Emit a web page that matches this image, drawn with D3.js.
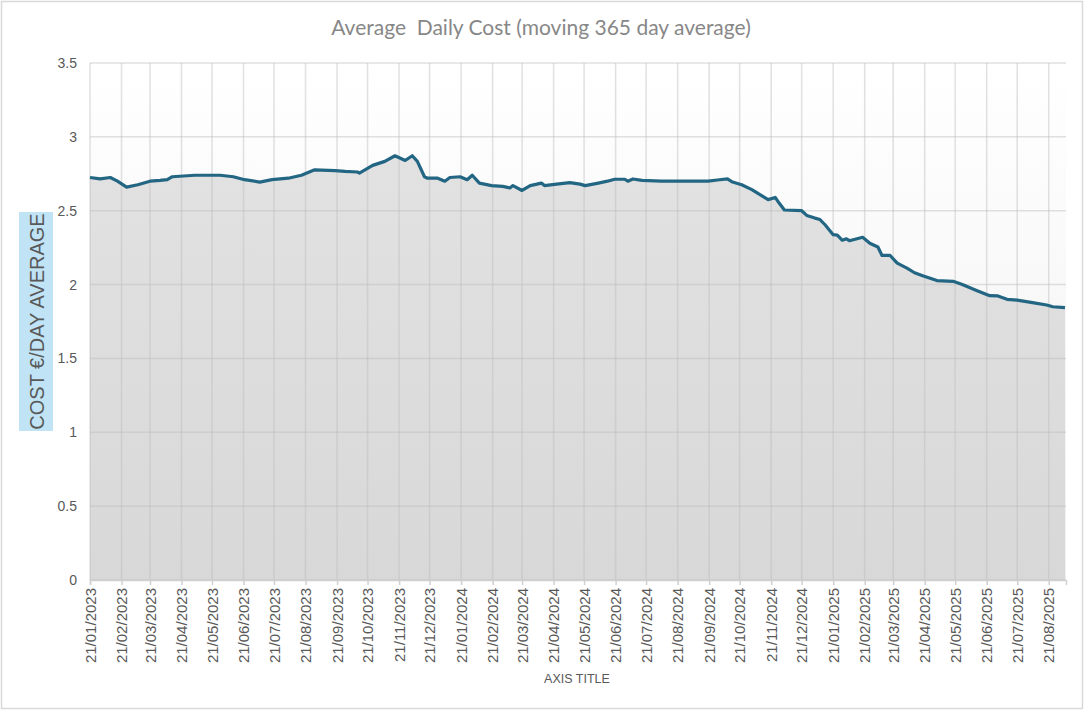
<!DOCTYPE html>
<html>
<head>
<meta charset="utf-8">
<script src="https://cdn.jsdelivr.net/npm/d3@7"></script>
<style>
  body { margin: 0; background: #fff; }
  svg { display: block; }
</style>
</head>
<body>
<div id="chart"></div>
<script>
// moving 365 day average
const dates = [
  "2023-01-21","2023-01-31","2023-02-10","2023-02-17","2023-02-26","2023-03-09","2023-03-21","2023-03-31",
  "2023-04-07","2023-04-12","2023-05-04","2023-05-29","2023-06-11","2023-06-22","2023-07-07","2023-07-19",
  "2023-08-04","2023-08-17","2023-08-30","2023-09-19","2023-09-29","2023-10-11","2023-10-13","2023-10-26",
  "2023-11-07","2023-11-17","2023-11-27","2023-12-04","2023-12-09","2023-12-16","2023-12-19","2023-12-29",
  "2024-01-05","2024-01-10","2024-01-20","2024-01-27","2024-02-01","2024-02-08","2024-02-20","2024-03-02",
  "2024-03-09","2024-03-12","2024-03-21","2024-03-29","2024-04-09","2024-04-12","2024-04-24","2024-05-07",
  "2024-05-17","2024-05-22","2024-06-04","2024-06-13","2024-06-20","2024-06-30","2024-07-03","2024-07-08",
  "2024-07-17","2024-08-05","2024-09-04","2024-09-20","2024-09-29","2024-10-09","2024-10-14","2024-10-23",
  "2024-11-02","2024-11-12","2024-11-18","2024-11-25","2024-11-29","2024-12-04","2024-12-21","2024-12-26",
  "2025-01-03","2025-01-08","2025-01-13","2025-01-21","2025-01-25","2025-01-30","2025-02-03","2025-02-06",
  "2025-02-19","2025-02-26","2025-03-06","2025-03-10","2025-03-18","2025-03-25","2025-04-04","2025-04-11",
  "2025-04-19","2025-05-03","2025-05-19","2025-05-28","2025-06-11","2025-06-24","2025-07-02","2025-07-11",
  "2025-07-21","2025-08-05","2025-08-19","2025-08-25","2025-09-06"
];
const costs = [
  2.725,2.715,2.725,2.70,2.66,2.676,2.70,2.705,
  2.71,2.73,2.74,2.74,2.73,2.71,2.694,2.71,
  2.72,2.74,2.777,2.772,2.766,2.762,2.755,2.807,
  2.834,2.872,2.84,2.872,2.834,2.73,2.72,2.72,
  2.70,2.725,2.73,2.71,2.74,2.687,2.67,2.665,
  2.654,2.67,2.637,2.67,2.687,2.67,2.68,2.69,
  2.68,2.67,2.687,2.70,2.713,2.713,2.70,2.715,
  2.705,2.70,2.70,2.70,2.708,2.715,2.694,2.676,
  2.643,2.60,2.575,2.59,2.55,2.505,2.50,2.468,
  2.45,2.44,2.405,2.338,2.335,2.30,2.31,2.297,
  2.32,2.28,2.254,2.197,2.197,2.145,2.11,2.08,
  2.06,2.027,2.022,2.00,1.96,1.925,1.923,1.90,
  1.895,1.878,1.862,1.85,1.844
];
const yTicks = [0, 0.5, 1, 1.5, 2, 2.5, 3, 3.5];
const xStart = "2023-01-21";
const xEnd = "2025-09-07";
const TITLE = "Average  Daily Cost (moving 365 day average)";
const Y_TITLE = "COST €/DAY AVERAGE";
const X_TITLE = "AXIS TITLE";

const WIDTH = 1084, HEIGHT = 710;
const PLOT = {left: 90, right: 1066, top: 63, bottom: 580};
const SANS = "Liberation Sans, Arial, sans-serif";

const parse = d3.timeParse("%Y-%m-%d");
const fmt = d3.timeFormat("%d/%m/%Y");
const data = dates.map((d, i) => ({date: parse(d), value: costs[i]}));

// ticks on the 21st of every month
const tickDates = d3.timeMonth.range(parse("2023-01-01"), parse("2025-09-01"))
  .map(m => new Date(m.getFullYear(), m.getMonth(), 21));

const svg = d3.select("#chart").append("svg")
  .attr("width", WIDTH)
  .attr("height", HEIGHT);

const defs = svg.append("defs");
const bgGrad = defs.append("linearGradient").attr("id", "bgGrad")
  .attr("x1", 0).attr("y1", 0).attr("x2", 0).attr("y2", 1);
bgGrad.append("stop").attr("offset", "0%").attr("stop-color", "#ffffff");
bgGrad.append("stop").attr("offset", "100%").attr("stop-color", "#f0f0f0");
const areaGrad = defs.append("linearGradient").attr("id", "areaGrad")
  .attr("gradientUnits", "userSpaceOnUse")
  .attr("x1", 0).attr("y1", PLOT.top).attr("x2", 0).attr("y2", PLOT.bottom);
areaGrad.append("stop").attr("offset", "0%").attr("stop-color", "#e4e4e4");
areaGrad.append("stop").attr("offset", "100%").attr("stop-color", "#d8d8d8");

// outer frame
svg.append("rect")
  .attr("x", 1.5).attr("y", 1.5)
  .attr("width", WIDTH - 3).attr("height", HEIGHT - 3)
  .attr("fill", "#fff")
  .attr("stroke", "#d9d9d9")
  .attr("stroke-width", 1.5);

const x = d3.scaleTime()
  .domain([parse(xStart), parse(xEnd)])
  .range([PLOT.left, PLOT.right]);

const y = d3.scaleLinear()
  .domain([0, 3.5])
  .range([PLOT.bottom, PLOT.top]);

// plot background
svg.append("rect")
  .attr("x", PLOT.left).attr("y", PLOT.top)
  .attr("width", PLOT.right - PLOT.left)
  .attr("height", PLOT.bottom - PLOT.top)
  .attr("fill", "url(#bgGrad)");

// area under the line
const area = d3.area()
  .x(d => x(d.date))
  .y0(y(0))
  .y1(d => y(d.value));

svg.append("path")
  .datum(data)
  .attr("d", area)
  .attr("fill", "url(#areaGrad)");

// gridlines on top of the area
const grid = svg.append("g");
grid.selectAll(".hgrid")
  .data(yTicks)
  .enter().append("line")
  .attr("x1", PLOT.left).attr("x2", PLOT.right)
  .attr("y1", d => y(d)).attr("y2", d => y(d))
  .attr("stroke", "#bdbdbd")
  .attr("stroke-opacity", 0.45)
  .attr("stroke-width", 1.5);

grid.selectAll(".vgrid")
  .data(tickDates)
  .enter().append("line")
  .attr("x1", d => x(d)).attr("x2", d => x(d))
  .attr("y1", PLOT.top).attr("y2", PLOT.bottom)
  .attr("stroke", "#bdbdbd")
  .attr("stroke-opacity", 0.45)
  .attr("stroke-width", 1.5);

// the line
const line = d3.line()
  .x(d => x(d.date))
  .y(d => y(d.value));

svg.append("path")
  .datum(data)
  .attr("d", line)
  .attr("fill", "none")
  .attr("stroke", "#226683")
  .attr("stroke-width", 3.2)
  .attr("stroke-linejoin", "round");

// x axis
const xAxis = d3.axisBottom(x)
  .tickValues(tickDates)
  .tickFormat(fmt)
  .tickSize(5)
  .tickPadding(6);

const gx = svg.append("g")
  .attr("transform", `translate(0,${PLOT.bottom})`)
  .call(xAxis);
gx.select(".domain").attr("stroke", "#d0d0d0").attr("stroke-width", 1.5);
gx.selectAll(".tick line").attr("stroke", "#d0d0d0").attr("stroke-width", 1.5);
gx.selectAll(".tick text")
  .attr("transform", "rotate(-90)")
  .attr("x", -8)
  .attr("y", 0)
  .attr("dy", "0.35em")
  .attr("text-anchor", "end")
  .attr("fill", "#595959")
  .attr("font-family", SANS)
  .attr("font-size", "15px");

// y axis
const yAxis = d3.axisLeft(y)
  .tickValues(yTicks)
  .tickFormat(d3.format("~g"))
  .tickSize(0)
  .tickPadding(13);

const gy = svg.append("g")
  .attr("transform", `translate(${PLOT.left},0)`)
  .call(yAxis);
gy.select(".domain").remove();
gy.selectAll(".tick text")
  .attr("fill", "#595959")
  .attr("font-family", SANS)
  .attr("font-size", "14px");

// title
svg.append("text")
  .attr("x", 541)
  .attr("y", 35)
  .attr("text-anchor", "middle")
  .attr("fill", "#878787")
  .attr("font-family", "Lato, sans-serif")
  .attr("font-size", "21px")
  .style("white-space", "pre")
  .text(TITLE);

// y axis title with highlight box
svg.append("rect")
  .attr("x", 19).attr("y", 212)
  .attr("width", 34).attr("height", 219)
  .attr("fill", "#c0e4f5");

svg.append("text")
  .attr("transform", "translate(43.5,321.5) rotate(-90)")
  .attr("text-anchor", "middle")
  .attr("fill", "#595959")
  .attr("font-family", SANS)
  .attr("font-size", "20px")
  .text(Y_TITLE);

// x axis title
svg.append("text")
  .attr("x", 577)
  .attr("y", 683)
  .attr("text-anchor", "middle")
  .attr("fill", "#595959")
  .attr("font-family", SANS)
  .attr("font-size", "12.5px")
  .text(X_TITLE);
</script>
</body>
</html>
